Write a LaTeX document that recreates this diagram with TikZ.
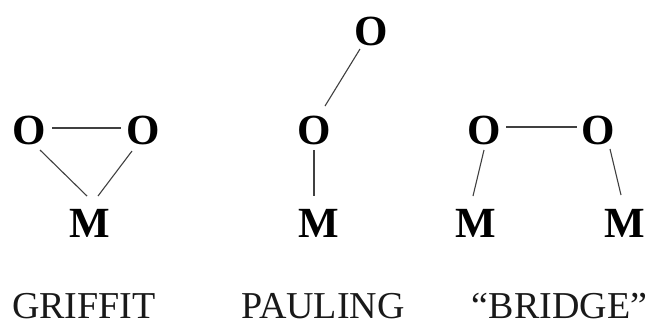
\documentclass[tikz,border=0pt]{standalone}
\usepackage{fontspec}
\setmainfont{Liberation Serif}
\tikzset{atom/.style={font=\bfseries\fontsize{43}{44}\selectfont,inner sep=0pt,text=black},
bond/.style={draw=black!75,line width=1.1pt},
captext/.style={font=\fontsize{38}{40}\selectfont,inner sep=0pt,text=black!90}}
\begin{document}
\begin{tikzpicture}[x=1pt,y=-1pt]
\useasboundingbox (0,0) rectangle (647,322);
\node[atom] (a) at (29.5,130) {O};
\node[atom] (b) at (143.5,130) {O};
\node[atom] (c) at (90,223) {M};
\node[atom] (d) at (371.5,31) {O};
\node[atom] (e) at (314.5,130) {O};
\node[atom] (f) at (318.5,223) {M};
\node[atom] (g) at (484.5,130) {O};
\node[atom] (h) at (598.5,130) {O};
\node[atom] (i) at (476,223) {M};
\node[atom] (j) at (625,223) {M};
\node[captext] (t1) at (84,306.5) {GRIFFIT};
\node[captext] (t2) at (323,306.5) {PAULING};
\node[captext] (t3) at (559.5,306.5) {“BRIDGE”};
\draw[bond] ([shift={(22.5,-2)}]a.center) -- ([shift={(-22.5,-2)}]b.center);
\draw[bond] ([shift={(10.5,20)}]a.center) -- ([shift={(-3,-27)}]c.center);
\draw[bond] ([shift={(-11.5,21)}]b.center) -- ([shift={(8,-27)}]c.center);
\draw[bond] ([shift={(-11.5,18)}]d.center) -- ([shift={(10.5,-24)}]e.center);
\draw[bond] ([shift={(-0.5,20)}]e.center) -- ([shift={(-4.5,-27)}]f.center);
\draw[bond] ([shift={(21.5,-3)}]g.center) -- ([shift={(-21.5,-3)}]h.center);
\draw[bond] ([shift={(-0.5,20)}]g.center) -- ([shift={(-3,-27)}]i.center);
\draw[bond] ([shift={(11.5,19)}]h.center) -- ([shift={(-4,-28)}]j.center);
\end{tikzpicture}
\end{document}
